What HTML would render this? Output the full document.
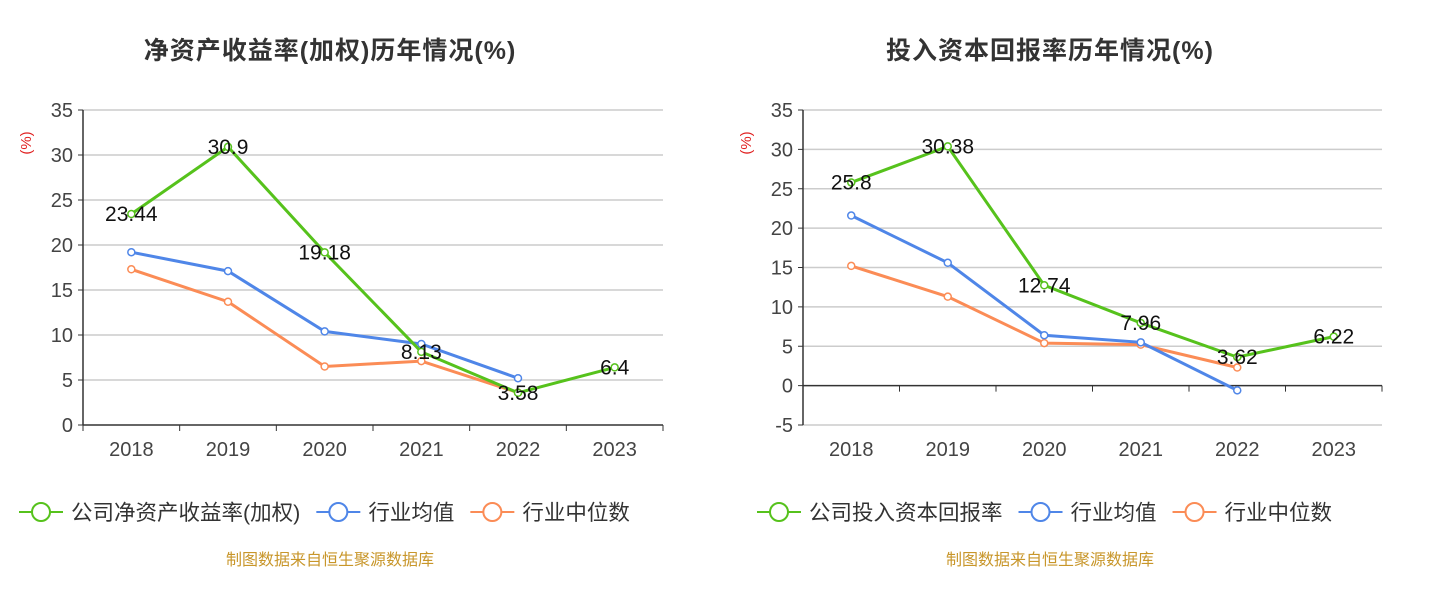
<!DOCTYPE html>
<html><head><meta charset="utf-8"><style>
body{margin:0;background:#fff;}
svg{display:block;font-family:"Liberation Sans","Noto Sans CJK SC",sans-serif;}
</style></head><body>
<svg id="c" width="1438" height="606"></svg>
<script>
const years=["2018","2019","2020","2021","2022","2023"];
const roeCompany=[23.44,30.9,19.18,8.13,3.58,6.4];
const roeIndustryAvg=[19.2,17.1,10.4,9.0,5.2];
const roeIndustryMed=[17.3,13.7,6.5,7.1,3.6];
const roicCompany=[25.8,30.38,12.74,7.96,3.62,6.22];
const roicIndustryAvg=[21.6,15.6,6.4,5.5,-0.6];
const roicIndustryMed=[15.2,11.3,5.4,5.2,2.3];
const roeTicks=[0,5,10,15,20,25,30,35];
const roicTicks=[-5,0,5,10,15,20,25,30,35];

const NS="http://www.w3.org/2000/svg";
const svg=document.getElementById('c');
function mk(tag,attrs,parent,text){const e=document.createElementNS(NS,tag);for(const k in attrs)e.setAttribute(k,attrs[k]);if(text!==undefined)e.textContent=text;(parent||svg).appendChild(e);return e;}

function chart(cfg){
  const g=mk('g',{});
  
  
  const x0=cfg.x0,x1=cfg.x1,yTop=110,yBot=425;
  const min=cfg.ticks[0],max=cfg.ticks[cfg.ticks.length-1];
  const y=v=>yBot-(v-min)/(max-min)*(yBot-yTop);
  const bw=(x1-x0)/years.length;
  const x=i=>x0+bw*(i+0.5);
  const t=mk('text',{x:cfg.cx,y:59,'text-anchor':'middle','font-size':25,'font-weight':'bold',fill:'#333','letter-spacing':'1'},g,cfg.title);
  
  const u=mk('text',{transform:`translate(${x0-52},${143}) rotate(-90)`,'text-anchor':'middle','font-size':15,fill:'#e02020'},g,'(%)');
  
  cfg.ticks.forEach(v=>{
    if(v!==0) mk('line',{x1:x0,x2:x1,y1:y(v),y2:y(v),stroke:'#ccc','stroke-width':1.5},g);
    mk('line',{x1:x0-5,x2:x0,y1:y(v),y2:y(v),stroke:'#333'},g);
    const l=mk('text',{x:x0-10,y:y(v)+7,'text-anchor':'end','font-size':20,fill:'#444'},g,String(v));
    
  });
  mk('line',{x1:x0,x2:x0,y1:yTop,y2:yBot,stroke:'#333','stroke-width':1.5},g);
  const y0=y(0);
  mk('line',{x1:x0,x2:x1,y1:y0,y2:y0,stroke:'#333','stroke-width':1.5},g);
  for(let i=0;i<=years.length;i++) mk('line',{x1:x0+bw*i,x2:x0+bw*i,y1:y0,y2:y0+6,stroke:'#333'},g);
  years.forEach((yr,i)=>{const l=mk('text',{x:x(i),y:456,'text-anchor':'middle','font-size':20,fill:'#444'},g,yr);
    });
  const series=[[cfg.med,'#fb8c56','industry-median-line'],[cfg.avg,'#4f86e8','industry-average-line'],[cfg.comp,'#56c21c','company-line']];
  series.forEach(([d,c,n])=>{
    const p=mk('polyline',{points:d.map((v,i)=>x(i)+','+y(v)).join(' '),fill:'none',stroke:c,'stroke-width':3},g);
    
    d.forEach((v,i)=>{const ci=mk('circle',{cx:x(i),cy:y(v),r:3.5,fill:'#fff',stroke:c,'stroke-width':1.5},g);
      });
  });
  cfg.comp.forEach((v,i)=>{const l=mk('text',{x:x(i),y:y(v)+7,'text-anchor':'middle','font-size':21,fill:'#111'},g,String(v));
    });
  let lx=cfg.legX;
  [[cfg.legend,'#56c21c'],['行业均值','#4f86e8'],['行业中位数','#fb8c56']].forEach(([txt,c])=>{
    const lg=mk('g',{},g);
    mk('line',{x1:lx,x2:lx+44,y1:512,y2:512,stroke:c,'stroke-width':2},lg);
    mk('circle',{cx:lx+22,cy:512,r:9,fill:'#fff',stroke:c,'stroke-width':2},lg);
    const tt=mk('text',{x:lx+52,y:520,'font-size':21.5,fill:'#333'},lg,txt);
    lx+=52+tt.getComputedTextLength()+16;
  });
  const s=mk('text',{x:cfg.cx,y:565,'text-anchor':'middle','font-size':16,fill:'#c8962a'},g,'制图数据来自恒生聚源数据库');
  
}
chart({name:'roe-chart',x0:83,x1:663,cx:330,title:'净资产收益率(加权)历年情况(%)',ticks:roeTicks,comp:roeCompany,avg:roeIndustryAvg,med:roeIndustryMed,legend:'公司净资产收益率(加权)',legX:19});
chart({name:'roic-chart',x0:803,x1:1382,cx:1050,title:'投入资本回报率历年情况(%)',ticks:roicTicks,comp:roicCompany,avg:roicIndustryAvg,med:roicIndustryMed,legend:'公司投入资本回报率',legX:757});
</script>
</body></html>
